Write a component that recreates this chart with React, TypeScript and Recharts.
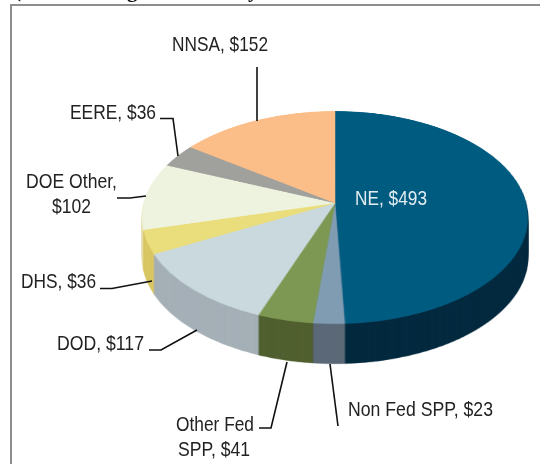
import { Cell, Pie, PieChart } from "recharts";

const CATEGORIES = ["NE", "Non Fed SPP", "Other Fed SPP", "DOD", "DHS", "DOE Other", "EERE", "NNSA"];
const VALUES = [493, 23, 41, 117, 36, 102, 36, 152];
const TOP_COLORS = ["#005b80", "#7f9cb2", "#7c9852", "#c9d9dd", "#e9dd7c", "#eef3df", "#a0a09c", "#fcbe88"];
const SIDE_COLORS = ["#02293e", "#5a6877", "#505f2e", "#a4afb6", "#d8c662", "#e6e2b0", "#808080", "#d09a6a"];

const pieData = CATEGORIES.map((name, i) => ({ name, value: VALUES[i] }));

// pie is a flat circle tilted in css, that gives the off-centre apex of the original
const CHART_SIZE = 400;
const RADIUS = 191;
const APEX_X = 335;
const APEX_Y = 203;
const DEPTH = 40;
const TILT = "perspective(1177px) rotateX(56.9deg)";

const depthSteps: number[] = [];
for (let d = DEPTH; d >= 1; d--) depthSteps.push(d);

// text and leader lines sit in a flat layer over the pie
const ANNOTATIONS = [
  { lines: [{ text: "NNSA, $152", x: 172, y: 51, w: 96 }], path: "M257 67V121" },
  { lines: [{ text: "EERE, $36", x: 70, y: 119, w: 86 }], path: "M160 118.5H173L178 156" },
  {
    lines: [
      { text: "DOE Other,", x: 26, y: 188, w: 91 },
      { text: "$102", x: 52, y: 213, w: 39 },
    ],
    path: "M117 198H130L146 196",
  },
  { lines: [{ text: "DHS, $36", x: 21, y: 288, w: 75 }], path: "M100 288.5H112L152 281" },
  { lines: [{ text: "DOD, $117", x: 57, y: 350, w: 87 }], path: "M149 350H161L197 330" },
  {
    lines: [
      { text: "Other Fed", x: 176, y: 431, w: 78 },
      { text: "SPP, $41", x: 178, y: 456, w: 72 },
    ],
    path: "M259 428H271L287 362",
  },
  { lines: [{ text: "Non Fed SPP, $23", x: 348, y: 416, w: 145 }], path: "M330 364L338 426" },
];

function PieLayer({ colors, offset }: { colors: string[]; offset: number }) {
  return (
    <div
      style={{
        position: "absolute",
        left: APEX_X - CHART_SIZE / 2,
        top: APEX_Y - CHART_SIZE / 2 + offset,
        width: CHART_SIZE,
        height: CHART_SIZE,
        transform: TILT,
        transformOrigin: "50% 50%",
      }}
    >
      <PieChart width={CHART_SIZE} height={CHART_SIZE} margin={{ top: 0, right: 0, bottom: 0, left: 0 }}>
        <Pie
          data={pieData}
          dataKey="value"
          nameKey="name"
          cx={CHART_SIZE / 2}
          cy={CHART_SIZE / 2}
          innerRadius={0}
          outerRadius={RADIUS}
          startAngle={90}
          endAngle={-270}
          isAnimationActive={false}
        >
          {pieData.map((d, i) => (
            <Cell key={d.name} fill={colors[i]} stroke={colors[i]} strokeWidth={0.5} />
          ))}
        </Pie>
      </PieChart>
    </div>
  );
}

export default function App() {
  const font = '"Liberation Sans", sans-serif';
  return (
    <div style={{ position: "absolute", left: 0, top: 0, width: 540, height: 464, background: "#fff", overflow: "hidden" }}>
      {depthSteps.map((d) => (
        <PieLayer key={d} colors={SIDE_COLORS} offset={d} />
      ))}
      <PieLayer colors={TOP_COLORS} offset={0} />

      <svg width={540} height={464} style={{ position: "absolute", left: 0, top: 0 }}>
        {/* only the bottoms of the title glyphs are inside the crop */}
        <g fontFamily='"Liberation Serif", serif' fontWeight="bold" fontSize={21} fill="#111">
          <text x={14} y={-3}>(</text>
          <text x={127} y={-3}>g</text>
          <text x={248} y={-3}>y</text>
        </g>
        <path d="M11 464V5H540" fill="none" stroke="#8e8e8e" strokeWidth={2} />

        {ANNOTATIONS.map((a) => (
          <g key={a.path}>
            <path d={a.path} fill="none" stroke="#111" strokeWidth={1.6} />
            {a.lines.map((l) => (
              <text
                key={l.text}
                x={l.x}
                y={l.y}
                fontFamily={font}
                fontSize={21}
                fill="#222"
                textLength={l.w}
                lengthAdjust="spacingAndGlyphs"
              >
                {l.text}
              </text>
            ))}
          </g>
        ))}
        <text x={355} y={205} fontFamily={font} fontSize={21} fill="#e2edf1" textLength={72} lengthAdjust="spacingAndGlyphs">
          {`${CATEGORIES[0]}, $${VALUES[0]}`}
        </text>
      </svg>
    </div>
  );
}
